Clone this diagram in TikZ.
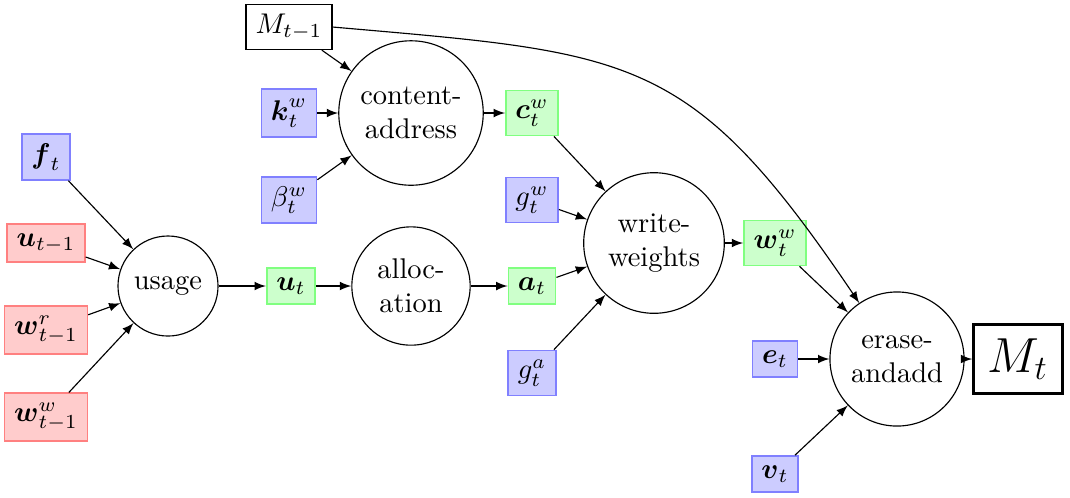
\documentclass[tikz,border=0pt]{standalone}
\usepackage{amsmath}
\usetikzlibrary{arrows,positioning,calc}
\tikzset{
  % proc style is used for the operations, the rest for the vectors
  proc/.style={draw, circle, align=center, inner sep=4pt},
  vecin/.style={draw=blue!50, fill=blue!20, semithick, rectangle},
  vecold/.style={draw=red!50, fill=red!20, semithick, rectangle},
  vecnew/.style={draw=green!50, fill=green!20, semithick, rectangle},
  mem/.style={draw, rectangle}}

\begin{document}
\begin{tikzpicture}[%
    x=0.3508pt,
    y=-0.3508pt,
    >=latex,              % small filled arrow tips
    ]
\useasboundingbox (0,0) rectangle (1070,497);

% usage part
\node (ft) [vecin] at (46,157) {$\boldsymbol{f}_t$};
\node (uprev) [vecold] at (46,243) {$\boldsymbol{u}_{t-1}$};
\node (wrprev) [vecold] at (46,330) {$\boldsymbol{w}^r_{t-1}$};
\node (wwprev) [vecold] at (46,417) {$\boldsymbol{w}^w_{t-1}$};
\node (usage) [proc] at (168,286) {usage};
\node (ut) [vecnew] at (291,286) {$\boldsymbol{u}_t$};
\node (alloc) [proc] at (411,286) {alloc-\\ation};
\node (at) [vecnew] at (532,286) {$\boldsymbol{a}_t$};

% content lookup
\node (mprev) [mem] at (289,27) {$M_{t-1}$};
\node (kw) [vecin] at (289,113) {$\boldsymbol{k}^w_t$};
\node (beta) [vecin] at (289,200) {$\beta^w_t$};
\node (content) [proc] at (411,113) {content-\\address};
\node (cw) [vecnew] at (532,113) {$\boldsymbol{c}^w_t$};

% write weighting
\node (gw) [vecin] at (532,200) {$g^w_t$};
\node (ga) [vecin] at (532,373) {$g^a_t$};
\node (write) [proc] at (654,243) {write-\\weights};
\node (ww) [vecnew] at (775,243) {$\boldsymbol{w}^w_t$};

% memory update
\node (et) [vecin] at (775,359) {$\boldsymbol{e}_t$};
\node (vt) [vecin] at (775,474) {$\boldsymbol{v}_t$};
\node (erase) [proc] at (897,359) {erase-\\andadd};
\node (mt) [mem, line width=1pt, inner sep=5pt] at (1018,359) {\LARGE $M_t$};

\draw [->] (ft) -- (usage);
\draw [->] (uprev) -- (usage);
\draw [->] (wrprev) -- (usage);
\draw [->] (wwprev) -- (usage);
\draw [->] (usage) -- (ut);
\draw [->] (ut) -- (alloc);
\draw [->] (alloc) -- (at);

\draw [->] (mprev) -- (content);
\draw [->] (kw) -- (content);
\draw [->] (beta) -- (content);
\draw [->] (content) -- (cw);

\draw [->] (cw) -- (write);
\draw [->] (gw) -- (write);
\draw [->] (at) -- (write);
\draw [->] (ga) -- (write);
\draw [->] (write) -- (ww);

\draw [->] (ww) -- (erase);
\draw [->] (et) -- (erase);
\draw [->] (vt) -- (erase);
\draw [->] (erase) -- (mt);

% old memory goes straight to the update
\draw [->] (mprev.east) to[out=-5, in=124, looseness=1.3] (erase);

\end{tikzpicture}
\end{document}
